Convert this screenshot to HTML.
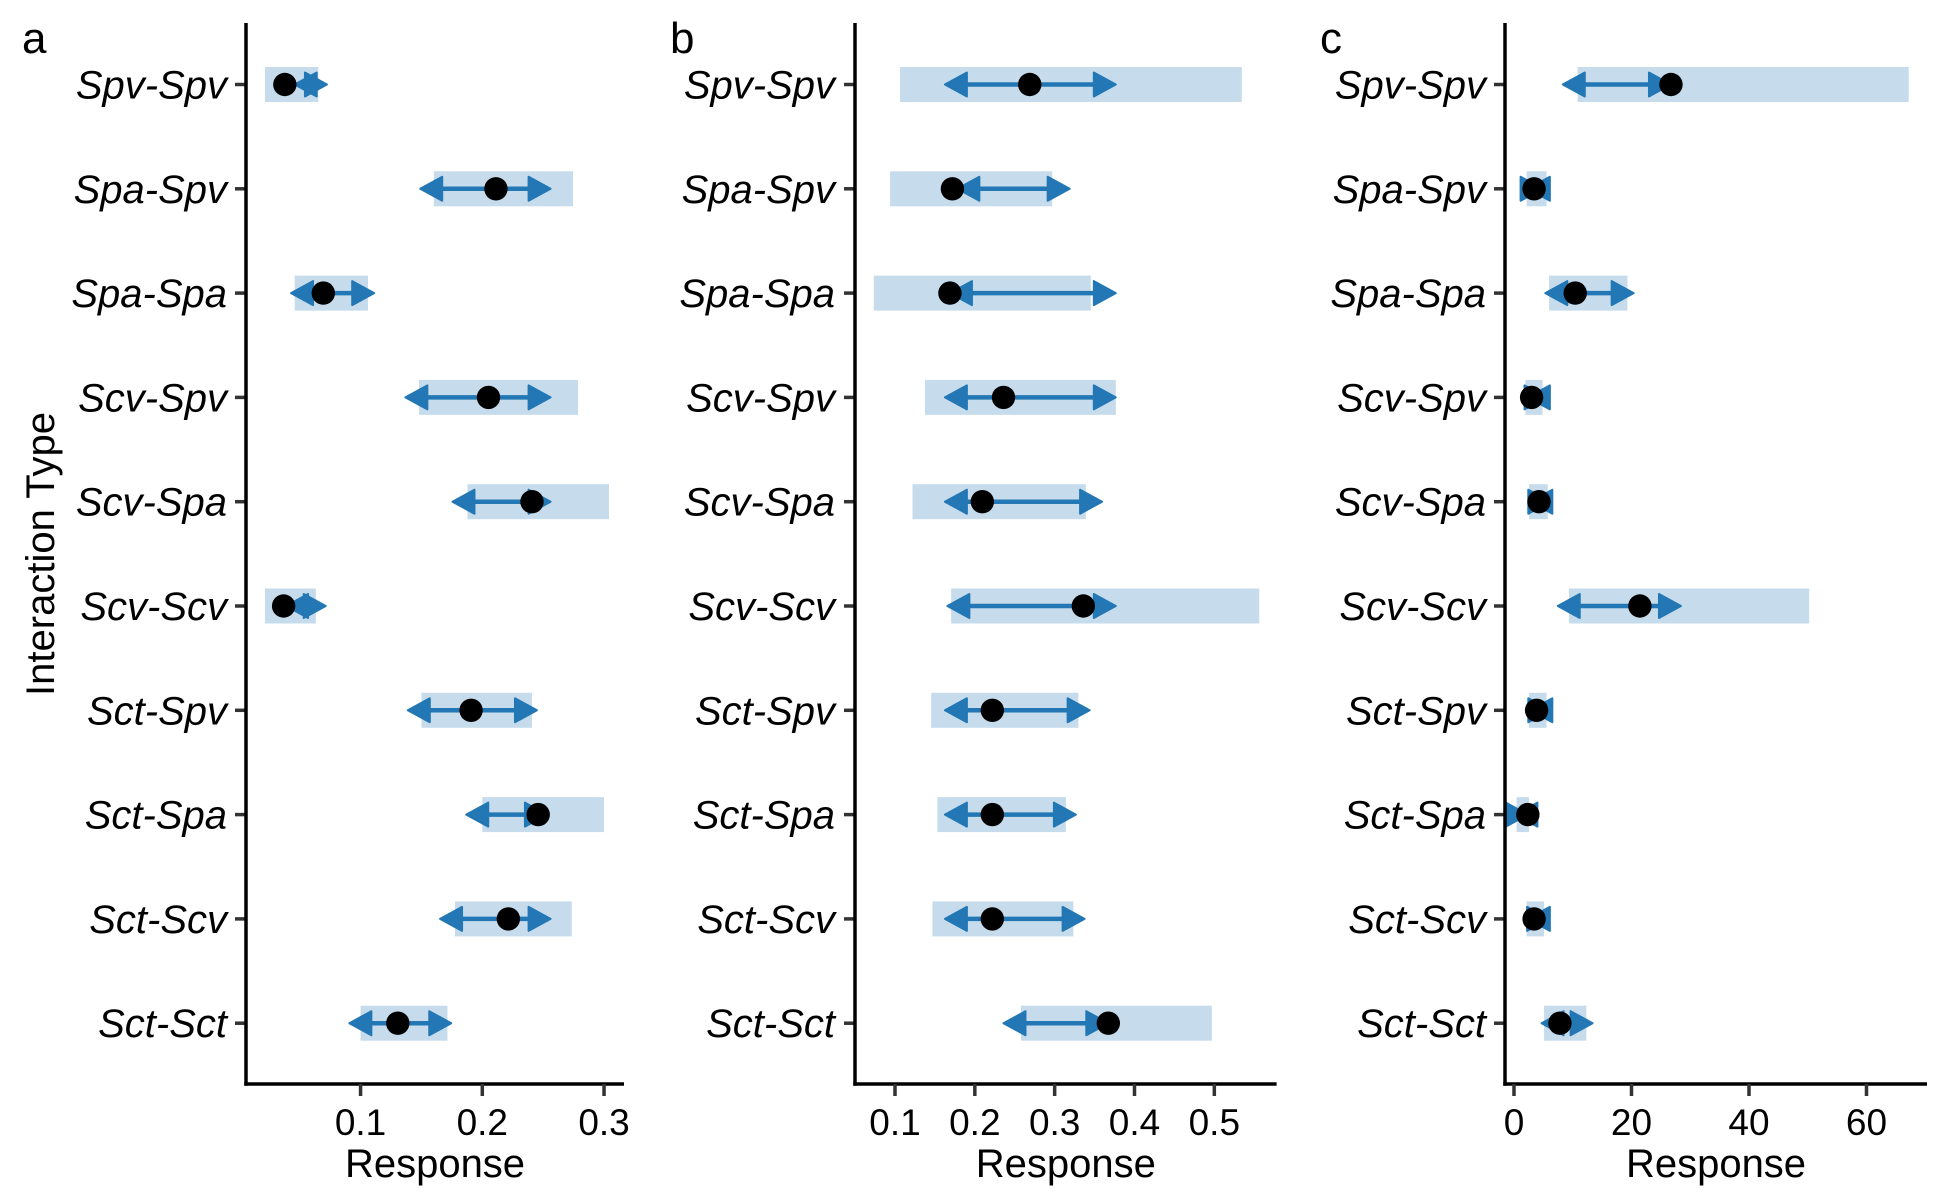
<!DOCTYPE html>
<html><head><meta charset="utf-8"><style>
html,body{margin:0;padding:0;background:#fff}
svg{display:block;font-family:"Liberation Sans",Arial,sans-serif}
</style></head><body>
<svg id="chart" width="1950" height="1200" viewBox="0 0 1950 1200"></svg>
<script>
const categories = ["Spv-Spv","Spa-Spv","Spa-Spa","Scv-Spv","Scv-Spa","Scv-Scv","Sct-Spv","Sct-Spa","Sct-Scv","Sct-Sct"];
// panel a
const aPoint = [0.0378,0.2112,0.0694,0.2051,0.2408,0.0368,0.1908,0.2459,0.2214,0.1306];
const aArrLo = [0.0459,0.1490,0.0429,0.1368,0.1755,0.0388,0.1388,0.1868,0.1653,0.0908];
const aArrHi = [0.0724,0.2561,0.1112,0.2561,0.2561,0.0714,0.2449,0.2531,0.2561,0.1745];
const aRectLo = [0.0215,0.1602,0.0459,0.1480,0.1878,0.0215,0.1500,0.2000,0.1776,0.1000];
const aRectHi = [0.0653,0.2745,0.1061,0.2786,0.3041,0.0633,0.2408,0.3000,0.2735,0.1714];
const aTicks = [0.1,0.2,0.3];
const aTickLabels = ["0.1","0.2","0.3"];
// panel b
const bPoint = [0.2688,0.1719,0.1688,0.2359,0.2094,0.3359,0.2219,0.2219,0.2219,0.3672];
const bArrLo = [0.1625,0.1781,0.1688,0.1625,0.1625,0.1656,0.1625,0.1625,0.1625,0.2359];
const bArrHi = [0.3766,0.3188,0.3766,0.3766,0.3594,0.3766,0.3438,0.3266,0.3375,0.3672];
const bRectLo = [0.1063,0.0938,0.0734,0.1375,0.1219,0.1703,0.1453,0.1531,0.1469,0.2578];
const bRectHi = [0.5344,0.2969,0.3453,0.3766,0.3391,0.5563,0.3297,0.3141,0.3234,0.4969];
const bTicks = [0.1,0.2,0.3,0.4,0.5];
const bTickLabels = ["0.1","0.2","0.3","0.4","0.5"];
// panel c
const cPoint = [26.72,3.42,10.42,3.00,4.26,21.43,3.85,2.36,3.42,7.82];
const cArrLo = [8.30,2.36,5.33,2.36,2.78,7.45,2.78,0.24,2.36,4.70];
const cArrHi = [26.72,4.87,20.37,5.54,6.18,28.42,6.18,2.36,5.97,13.38];
const cRectLo = [10.84,2.15,5.97,1.94,2.57,9.36,2.57,0.45,2.15,5.12];
const cRectHi = [67.19,5.54,19.31,4.87,5.75,50.25,5.54,2.57,5.12,12.32];
const cTicks = [0,20,40,60];
const cTickLabels = ["0","20","40","60"];

const NS="http://www.w3.org/2000/svg";
const svg=document.getElementById('chart');
function mk(tag,attrs,parent){const e=document.createElementNS(NS,tag);for(const k in attrs)e.setAttribute(k,attrs[k]);(parent||svg).appendChild(e);return e;}
const yTop=23, yBot=1084;
function yRow(i){return 84.5+i*104.3;}

const panels=[
 {id:'a',x0:246,x1:624,d0:0.0059,d1:0.3164,lblRight:227,letterX:22,p:aPoint,al:aArrLo,ah:aArrHi,rl:aRectLo,rh:aRectHi,t:aTicks,tl:aTickLabels},
 {id:'b',x0:855,x1:1276.6,d0:0.0499,d1:0.578,lblRight:835,letterX:670,p:bPoint,al:bArrLo,ah:bArrHi,rl:bRectLo,rh:bRectHi,t:bTicks,tl:bTickLabels},
 {id:'c',x0:1505,x1:1927,d0:-1.53,d1:70.3,lblRight:1486,letterX:1320,p:cPoint,al:cArrLo,ah:cArrHi,rl:cRectLo,rh:cRectHi,t:cTicks,tl:cTickLabels}
];

panels.forEach(P=>{
  const g=mk('g',{});
  
  
  const xs=v=>P.x0+(v-P.d0)/(P.d1-P.d0)*(P.x1-P.x0);
  const letter=mk('text',{x:P.letterX,y:53,'font-size':44,fill:'#000'},g);
  letter.textContent=P.id;
  
  
  categories.forEach((c,i)=>{
    const y=yRow(i);
    const r=mk('rect',{x:xs(P.rl[i]),y:y-17.5,width:xs(P.rh[i])-xs(P.rl[i]),height:35,fill:'#c6dcec'},g);
    
    
    const lo=xs(P.al[i]), hi=xs(P.ah[i]);
    const ar=mk('g',{},g);
    
    
    mk('line',{x1:lo+5,y1:y,x2:hi-5,y2:y,stroke:'#2277b4','stroke-width':4.5},ar);
    mk('path',{d:`M${lo},${y} L${lo+22},${y-12} L${lo+22},${y+12} Z`,fill:'#2277b4','stroke':'#2277b4','stroke-width':2,'stroke-linejoin':'round'},ar);
    mk('path',{d:`M${hi},${y} L${hi-22},${y-12} L${hi-22},${y+12} Z`,fill:'#2277b4','stroke':'#2277b4','stroke-width':2,'stroke-linejoin':'round'},ar);
    const pt=mk('circle',{cx:xs(P.p[i]),cy:y,r:11.7,fill:'#000'},g);
    
    
    mk('line',{x1:P.x0-11,y1:y,x2:P.x0,y2:y,stroke:'#333','stroke-width':3.5},g);
    const t=mk('text',{x:P.lblRight,y:y+14,'font-size':40,'font-style':'italic','text-anchor':'end',fill:'#000'},g);
    t.textContent=c;
    
    
  });
  const ya=mk('line',{x1:P.x0,y1:yTop,x2:P.x0,y2:yBot+1.75,stroke:'#000','stroke-width':3.5},g);
  
  
  const xa=mk('line',{x1:P.x0-1.75,y1:yBot,x2:P.x1,y2:yBot,stroke:'#000','stroke-width':3.5},g);
  
  
  P.t.forEach((v,k)=>{
    const x=xs(v);
    mk('line',{x1:x,y1:yBot,x2:x,y2:yBot+12,stroke:'#333','stroke-width':3.5},g);
    const tl=mk('text',{x:x,y:1135,'font-size':37,'text-anchor':'middle',fill:'#000'},g);
    tl.textContent=P.tl[k];
    
    
  });
  const xt=mk('text',{x:(P.x0+P.x1)/2,y:1177,'font-size':40,'text-anchor':'middle',fill:'#000'},g);
  xt.textContent='Response';
  
  
});
const yt=mk('text',{x:0,y:0,'font-size':40,'text-anchor':'middle',fill:'#000',transform:'translate(54,554) rotate(-90)'});
yt.textContent='Interaction Type';


</script>
</body></html>
